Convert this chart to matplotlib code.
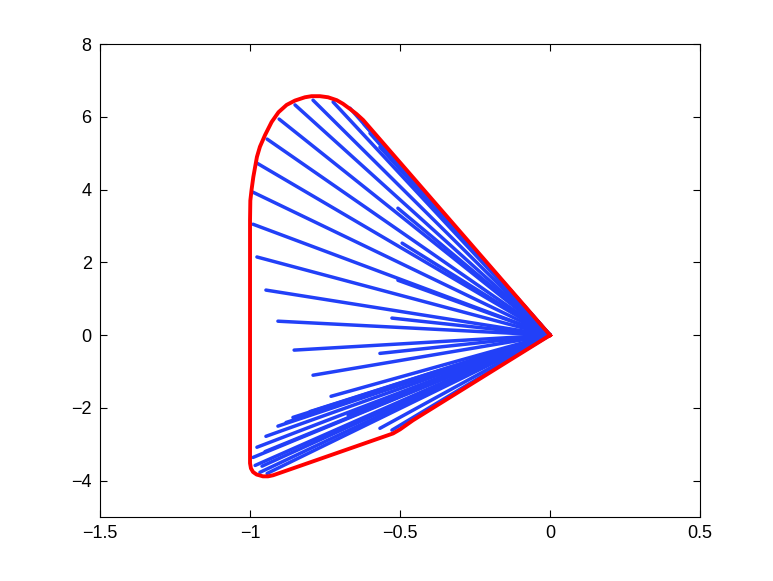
import matplotlib
matplotlib.use("Agg")
import matplotlib.pyplot as plt

# red boundary (data coords)
bound_x = [0.0, -0.623, -0.645, -0.667, -0.69, -0.711, -0.74, -0.767, -0.795, -0.817,
           -0.85, -0.878, -0.905, -0.928, -0.95, -0.967, -0.977, -0.989, -0.995, -0.999,
           -1.0, -1.0, -0.997, -0.99, -0.978, -0.957, -0.94, -0.923, -0.523, -0.50,
           -0.457, 0.0]
bound_y = [0.0, 5.915, 6.08, 6.22, 6.36, 6.46, 6.54, 6.57, 6.57, 6.54,
           6.45, 6.33, 6.13, 5.86, 5.50, 5.18, 4.90, 4.35, 3.99, 3.70,
           3.16, -3.52, -3.66, -3.76, -3.83, -3.88, -3.88, -3.85, -2.70, -2.59,
           -2.34, 0.0]

# blue ray endpoints (each ray starts at origin)
ray_x = [-0.85, -0.79, -0.723, -0.667, -0.903, -0.943, -0.977, -0.99, -0.99, -0.977,
         -0.947, -0.907, -0.853, -0.79, -0.73, -0.857, -0.907, -0.947, -0.977, -0.99,
         -0.983, -0.967, -0.943, -0.673, -0.80, -0.527, -0.567, -0.507, -0.493, -0.507,
         -0.567, -0.567, -0.527, -0.62, -0.60, -0.55, -0.52, -0.88, -0.95, -0.96]
ray_y = [6.33, 6.46, 6.41, 6.24, 5.94, 5.39, 4.73, 3.93, 3.05, 2.15,
         1.24, 0.385, -0.41, -1.10, -1.68, -2.26, -2.50, -2.78, -3.08, -3.36,
         -3.58, -3.77, -3.80, -2.20, -2.10, 0.47, -0.50, 1.51, 2.53, 3.49,
         5.17, -2.56, -2.61, 5.80, 5.55, 5.15, 4.85, -2.40, -3.20, -3.60]

blue = "#2240f8"

fig = plt.figure(figsize=(7.73, 5.81), dpi=100)
fig.patch.set_facecolor("white")
ax = fig.add_axes([0.1294, 0.110, 0.7762, 0.814])

for x, y in zip(ray_x, ray_y):
    ax.plot([0, x], [0, y], color=blue, lw=2.5, solid_capstyle="round")
ax.plot(bound_x, bound_y, color="red", lw=2.8, solid_joinstyle="round")

ax.set_xlim(-1.5, 0.5)
ax.set_ylim(-5, 8)
ax.set_xticks([-1.5, -1, -0.5, 0, 0.5])
ax.set_xticklabels(["\u22121.5", "\u22121", "\u22120.5", "0", "0.5"])
ax.set_yticks([-4, -2, 0, 2, 4, 6, 8])
ax.set_yticklabels(["\u22124", "\u22122", "0", "2", "4", "6", "8"])
ax.tick_params(direction="in", length=5, width=0.8, top=True, right=True,
               labelsize=13, pad=6)
for lab in ax.get_xticklabels() + ax.get_yticklabels():
    lab.set_family(["Liberation Sans", "DejaVu Sans"])
for s in ax.spines.values():
    s.set_linewidth(0.8)

fig.savefig("out.png", dpi=100, facecolor="white")
